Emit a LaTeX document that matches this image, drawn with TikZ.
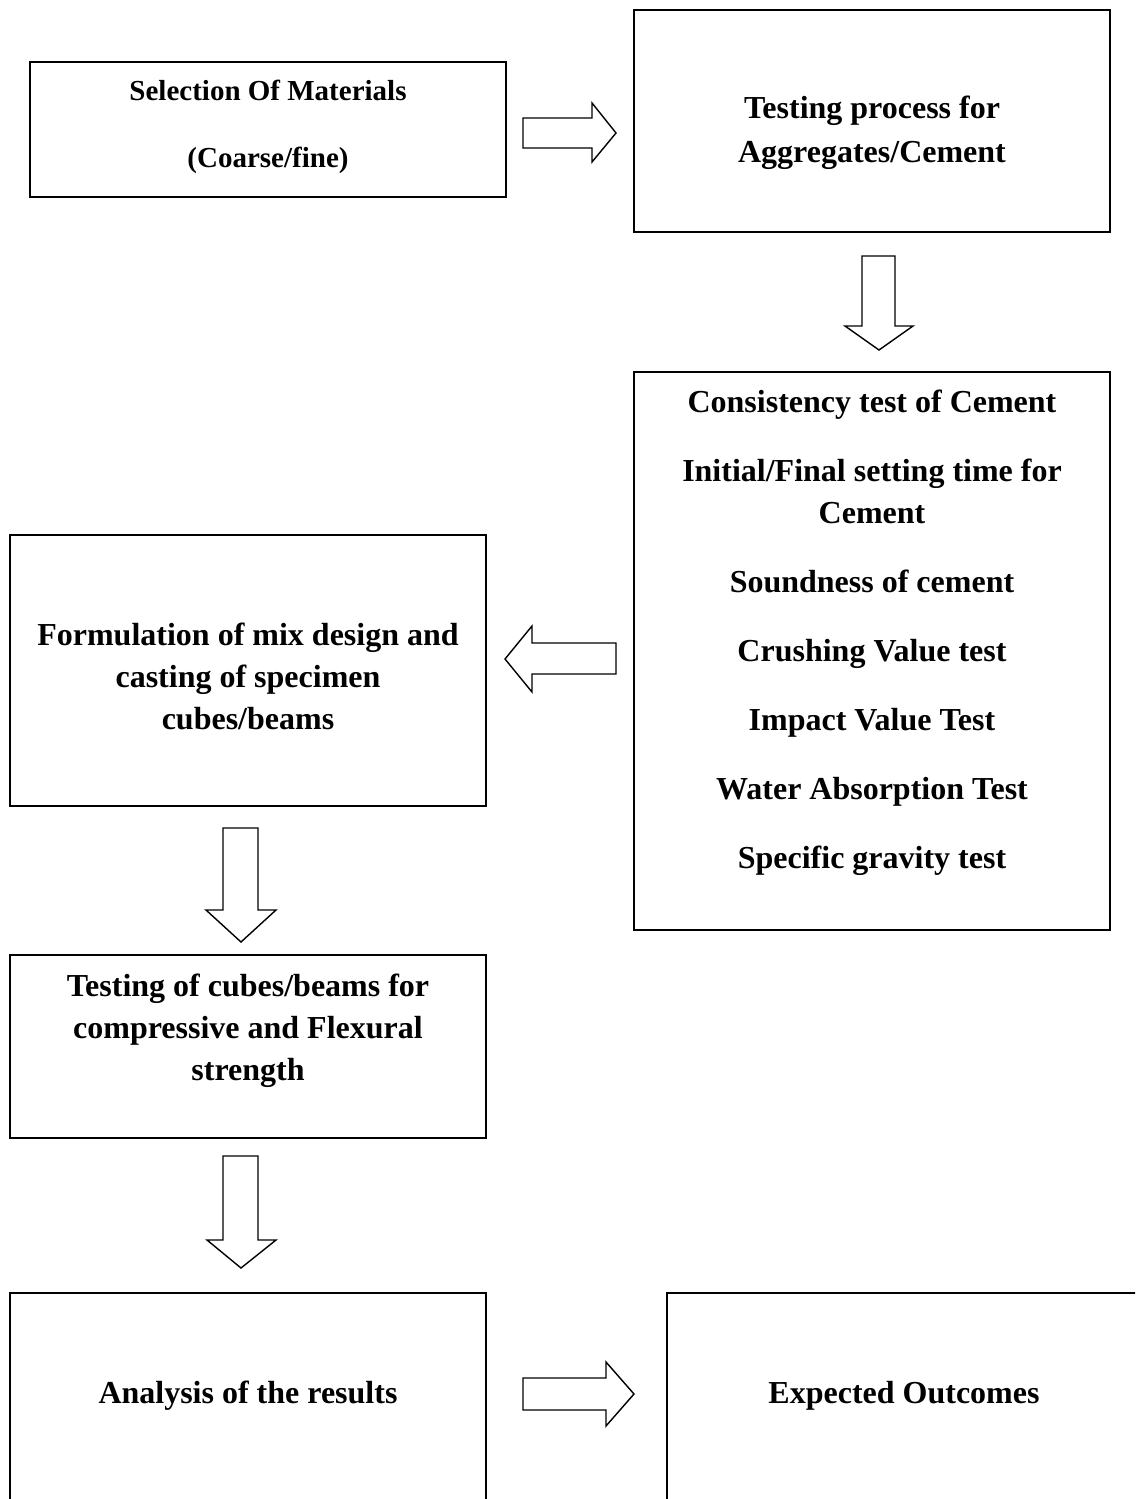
\documentclass[tikz,border=0pt]{standalone}
\usepackage{fontspec}
\setmainfont{Liberation Serif}
\begin{document}
\begin{tikzpicture}[x=1pt,y=-1pt,
  box/.style={draw=black,line width=1.6pt,fill=none,rectangle,inner sep=0pt,outer sep=0pt},
  txt/.style={font=\fontsize{32}{38}\selectfont\bfseries,anchor=base,inner sep=0pt},
  stxt/.style={font=\fontsize{29}{34}\selectfont\bfseries,anchor=base,inner sep=0pt},
  blockarrow/.style={draw=black,line width=1.4pt,line join=miter,fill=white}]
\clip (0,0) rectangle (1135,1499);
% boxes
\node[box,minimum width=476pt,minimum height=135pt] (b1) at (268,129.5) {};
\node[box,minimum width=476pt,minimum height=222pt] (b2) at (872,121) {};
\node[box,minimum width=476pt,minimum height=558pt] (b3) at (872,651) {};
\node[box,minimum width=476pt,minimum height=271pt] (b4) at (248,670.5) {};
\node[box,minimum width=476pt,minimum height=183pt] (b5) at (248,1046.5) {};
\node[box,minimum width=476pt,minimum height=267pt] (b6) at (248,1426.5) {};
\node[box,minimum width=533pt,minimum height=267pt] (b7) at (933.5,1426.5) {};
% texts
\node[stxt] (t1a) at (268,100) {Selection Of Materials};
\node[stxt] (t1b) at (268,167) {(Coarse/fine)};
\node[txt] (t2a) at (872,118) {Testing process for};
\node[txt] (t2b) at (872,162) {Aggregates/Cement};
\node[txt] (t3a) at (872,412) {Consistency test of Cement};
\node[txt] (t3b) at (872,481) {Initial/Final setting time for};
\node[txt] (t3c) at (872,523) {Cement};
\node[txt] (t3d) at (872,592) {Soundness of cement};
\node[txt] (t3e) at (872,661) {Crushing Value test};
\node[txt] (t3f) at (872,730) {Impact Value Test};
\node[txt] (t3g) at (872,799) {Water Absorption Test};
\node[txt] (t3h) at (872,868) {Specific gravity test};
\node[txt] (t4a) at (248,645) {Formulation of mix design and};
\node[txt] (t4b) at (248,687) {casting of specimen};
\node[txt] (t4c) at (248,729) {cubes/beams};
\node[txt] (t5a) at (248,996) {Testing of cubes/beams for};
\node[txt] (t5b) at (248,1038) {compressive and Flexural};
\node[txt] (t5c) at (248,1080) {strength};
\node[txt] (t6) at (248,1403) {Analysis of the results};
\node[txt] (t7) at (904,1403) {Expected Outcomes};
% block arrows
\draw[blockarrow] (523,118) -- (592,118) -- (592,103) -- (616,133) -- (592,162) -- (592,148) -- (523,148) -- cycle;
\draw[blockarrow] (862,256) -- (895,256) -- (895,326) -- (913,326) -- (879,350) -- (845,326) -- (862,326) -- cycle;
\draw[blockarrow] (616,643) -- (532,643) -- (532,626) -- (505,659) -- (532,692) -- (532,674) -- (616,674) -- cycle;
\draw[blockarrow] (223,828) -- (258,828) -- (258,910) -- (276,910) -- (241,942) -- (206,910) -- (223,910) -- cycle;
\draw[blockarrow] (223,1156) -- (258,1156) -- (258,1240) -- (276,1240) -- (241,1268) -- (207,1240) -- (223,1240) -- cycle;
\draw[blockarrow] (523,1378) -- (606,1378) -- (606,1362) -- (634,1394) -- (606,1426) -- (606,1410) -- (523,1410) -- cycle;
\end{tikzpicture}
\end{document}
